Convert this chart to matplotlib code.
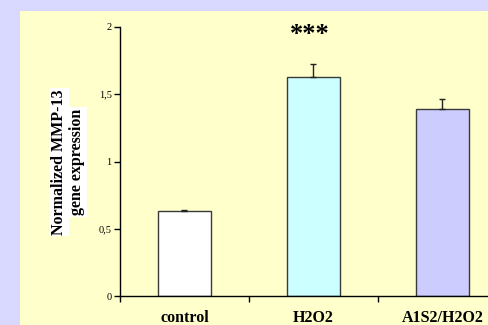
import matplotlib
matplotlib.use("Agg")
import matplotlib.pyplot as plt
from matplotlib.patches import Rectangle

# Data
categories = ["control", "H2O2", "A1S2/H2O2"]
means = [0.635, 1.63, 1.39]
errors = [0.005, 0.09, 0.07]
bar_colors = ["#FFFFFF", "#CCFFFF", "#CCCCFF"]
y_ticks = [0, 0.5, 1, 1.5, 2]
y_tick_labels = ["0", "0,5", "1", "1,5", "2"]
significance = "***"

W, H = 489, 325
fig = plt.figure(figsize=(W / 100, H / 100), dpi=100)
fig.patch.set_facecolor("#D9D9FF")

# Pale yellow slide panel
fig.patches.append(Rectangle((20 / W, 0), 1 - 20 / W, (H - 11) / H,
                             transform=fig.transFigure, facecolor="#FFFFCC",
                             edgecolor="none", zorder=-5))

y0_px, y2_px = 296.3, 26.7
x0_px, x3_px = 120, 507
ax = fig.add_axes([x0_px / W, (H - y0_px) / H, (x3_px - x0_px) / W,
                   (y0_px - y2_px) / H])
ax.patch.set_alpha(0)
ax.set_zorder(2)

serif = "Liberation Serif"
xs = [i + 0.5 for i in range(len(categories))]
ax.bar(xs, means, width=0.405, color=bar_colors, edgecolor="#3A3A3A",
       linewidth=1.0, zorder=2)
ax.errorbar(xs, means, yerr=[[0] * len(errors), errors], fmt="none",
            ecolor="#222222", elinewidth=1.0, capsize=2, capthick=1.0, zorder=3)

ax.set_xlim(0, 3)
ax.set_ylim(0, 2)
for s in ["top", "right"]:
    ax.spines[s].set_visible(False)
for s in ["left", "bottom"]:
    ax.spines[s].set_linewidth(1.0)
    ax.spines[s].set_color("black")

ax.set_yticks(y_ticks)
ax.set_yticklabels(y_tick_labels, fontfamily=serif, fontsize=7.5)
ax.tick_params(axis="y", length=4, width=1, pad=2, direction="out")

ax.set_xticks([0, 1, 2, 3])
ax.set_xticklabels([])
ax.tick_params(axis="x", which="major", length=4, width=1, direction="out")
ax.set_xticks(xs, minor=True)
ax.set_xticklabels(categories, minor=True, fontfamily=serif,
                   fontweight="bold", fontsize=11.5)
ax.tick_params(axis="x", which="minor", length=0, pad=10)

ax.text(1.47, 1.945, significance, ha="center", va="center",
        fontfamily=serif, fontweight="bold", fontsize=19, zorder=4,
        clip_on=False)

# Y axis title as two highlighted lines
for xpx, line in [(59, "Normalized MMP-13"), (77, "gene expression")]:
    fig.text(xpx / W, (H - 162) / H, line, rotation=90, ha="center",
             va="center", fontfamily=serif, fontweight="bold", fontsize=11.5,
             bbox=dict(facecolor="white", edgecolor="none", pad=1.2))

fig.savefig("out.png", dpi=100, facecolor=fig.get_facecolor())
